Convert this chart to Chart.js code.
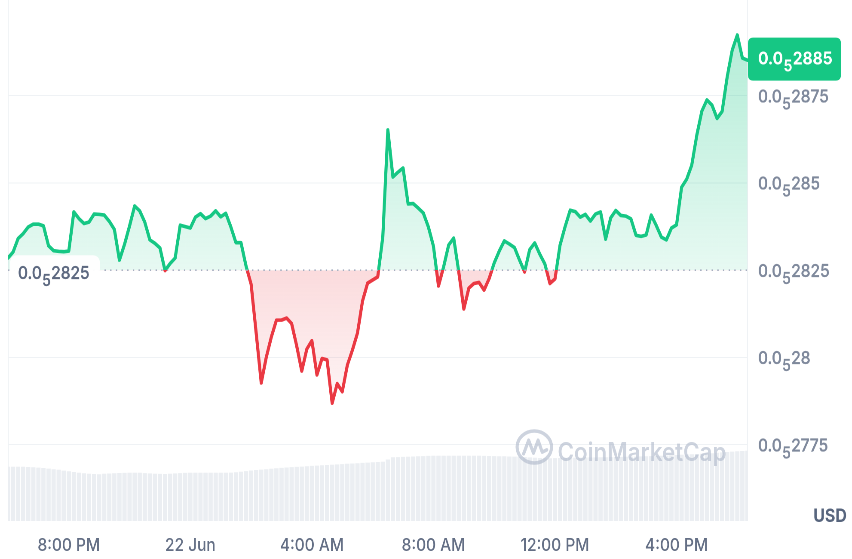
<!DOCTYPE html>
<html>
<head>
<meta charset="utf-8">
<script src="https://cdn.jsdelivr.net/npm/chart.js@4.4.1/dist/chart.umd.min.js"></script>
<style>
  html, body { margin: 0; padding: 0; background: #ffffff; overflow: hidden; width: 852px; height: 559px; }
  #wrap { position: absolute; left: 0; top: 0; width: 991px; height: 559px; transform: scaleX(0.8597); transform-origin: 0 0; }
</style>
</head>
<body>
<div id="wrap"><canvas id="c" width="991" height="559"></canvas></div>
<script>
// ---- data (price in units of 0.0₅xxxx, i.e. 1e-9 USD) ----
const startHour = -6;          // 21 Jun 18:00 (hours relative to 22 Jun 00:00)
const stepHours = 1 / 6;       // 10-minute samples
const baseline = 2825;         // opening price 0.0₅2825
const prices = [
  2828.5, 2830.2, 2834.1, 2835.5, 2837.4, 2838.2, 2838.2, 2837.7, 2832.0, 2830.6,
  2830.4, 2830.3, 2830.5, 2841.7, 2839.8, 2838.4, 2838.8, 2841.1, 2841.0, 2840.8,
  2839.0, 2836.7, 2827.9, 2832.4, 2837.7, 2843.4, 2842.0, 2838.8, 2833.7, 2832.7,
  2831.4, 2824.9, 2826.9, 2828.5, 2837.9, 2837.5, 2837.1, 2840.2, 2841.2, 2839.8,
  2840.5, 2842.0, 2840.3, 2841.3, 2837.4, 2832.9, 2832.9, 2826.2, 2821.0, 2807.0,
  2792.7, 2800.1, 2805.9, 2810.7, 2810.7, 2811.3, 2809.7, 2803.3, 2796.1, 2802.4,
  2804.8, 2795.0, 2799.7, 2799.3, 2786.9, 2792.5, 2790.2, 2797.8, 2802.1, 2807.0,
  2816.2, 2821.3, 2822.2, 2823.1, 2834.5, 2865.2, 2851.7, 2853.1, 2854.3, 2844.0,
  2844.1, 2842.8, 2841.4, 2837.4, 2831.9, 2820.5, 2825.9, 2832.2, 2834.2, 2824.5,
  2813.9, 2819.9, 2821.2, 2821.5, 2819.3, 2822.6, 2827.1, 2830.5, 2833.4, 2832.5,
  2831.5, 2827.9, 2824.5, 2830.9, 2832.8, 2829.6, 2826.8, 2821.2, 2822.5, 2832.2,
  2837.5, 2842.2, 2841.8, 2840.2, 2841.0, 2839.1, 2841.1, 2841.7, 2833.9, 2840.0,
  2842.1, 2840.7, 2840.5, 2839.7, 2835.0, 2834.7, 2835.1, 2840.8, 2837.8, 2834.5,
  2833.7, 2837.1, 2838.0, 2848.8, 2851.1, 2855.1, 2863.7, 2870.6, 2873.8, 2872.3,
  2868.5, 2870.5, 2880.4, 2888.1, 2892.4, 2885.8, 2885.2
];
const volumes = [
  5.43, 5.43, 5.42, 5.42, 5.40, 5.38, 5.34, 5.30, 5.24, 5.18,
  5.12, 5.04, 4.98, 4.90, 4.83, 4.78, 4.73, 4.70, 4.67, 4.72,
  4.75, 4.78, 4.80, 4.81, 4.82, 4.83, 4.82, 4.79, 4.76, 4.73,
  4.71, 4.70, 4.72, 4.76, 4.79, 4.81, 4.83, 4.83, 4.83, 4.83,
  4.83, 4.83, 4.83, 4.83, 4.84, 4.88, 4.93, 4.99, 5.05, 5.10,
  5.14, 5.18, 5.22, 5.27, 5.31, 5.35, 5.39, 5.41, 5.44, 5.48,
  5.51, 5.54, 5.57, 5.60, 5.63, 5.66, 5.69, 5.72, 5.75, 5.78,
  5.81, 5.84, 5.87, 5.90, 5.93, 6.15, 6.37, 6.39, 6.41, 6.43,
  6.45, 6.47, 6.49, 6.51, 6.52, 6.53, 6.53, 6.53, 6.53, 6.53,
  6.53, 6.53, 6.53, 6.52, 6.51, 6.50, 6.49, 6.48, 6.47, 6.45,
  6.44, 6.43, 6.40, 6.36, 6.33, 6.30, 6.27, 6.28, 6.29, 6.30,
  6.31, 6.32, 6.33, 6.34, 6.35, 6.36, 6.36, 6.37, 6.38, 6.39,
  6.40, 6.41, 6.42, 6.43, 6.44, 6.46, 6.47, 6.49, 6.50, 6.52,
  6.55, 6.57, 6.60, 6.62, 6.65, 6.68, 6.70, 6.73, 6.75, 6.78,
  6.82, 6.86, 6.90, 6.94, 6.97, 7.00, 7.03
];
const xTickHours = [-4, 0, 4, 8, 12, 16];
const xTickLabels = ['8:00 PM', '22 Jun', '4:00 AM', '8:00 AM', '12:00 PM', '4:00 PM'];
const yTickValues = [2775, 2800, 2825, 2850, 2875];
const zeroCount = 5;
const currency = 'USD';

// ---- styling ----
const GREEN = '#16c784', RED = '#ea3943';
const GRID = '#eff2f5';
const FONT = 'Inter, "Noto Sans", sans-serif';

const times = prices.map((_, i) => startHour + i * stepHours);
const pricePoints = prices.map((v, i) => ({ x: times[i], y: v }));
const volPoints = volumes.map((v, i) => ({ x: times[i], y: v }));

const mantissa = v => String(Math.round(v)).replace(/0+$/, '');

function drawSubLabel(ctx, x, yMid, value, size, subSize, color, weight, thicken) {
  ctx.save();
  ctx.fillStyle = color;
  ctx.strokeStyle = color;
  ctx.lineWidth = thicken || 0;
  ctx.lineJoin = 'round';
  ctx.textAlign = 'left';
  ctx.textBaseline = 'alphabetic';
  const put = (t, px, py) => { ctx.fillText(t, px, py); if (thicken) ctx.strokeText(t, px, py); };
  const base = yMid + 0.364 * size;
  ctx.font = `${weight} ${size}px ${FONT}`;
  put('0.0', x, base);
  let w = ctx.measureText('0.0').width + 0.5;
  ctx.font = `${weight} ${subSize}px ${FONT}`;
  put(String(zeroCount), x + w, base + 7);
  w += ctx.measureText(String(zeroCount)).width + 0.5;
  ctx.font = `${weight} ${size}px ${FONT}`;
  put(mantissa(value), x + w, base);
  ctx.restore();
}

function roundRect(ctx, x, y, w, h, r) {
  ctx.beginPath();
  ctx.moveTo(x + r, y);
  ctx.lineTo(x + w - r, y);
  ctx.quadraticCurveTo(x + w, y, x + w, y + r);
  ctx.lineTo(x + w, y + h - r);
  ctx.quadraticCurveTo(x + w, y + h, x + w - r, y + h);
  ctx.lineTo(x + r, y + h);
  ctx.quadraticCurveTo(x, y + h, x, y + h - r);
  ctx.lineTo(x, y + r);
  ctx.quadraticCurveTo(x, y, x + r, y);
  ctx.closePath();
}

function splitGradient(chart) {
  const { ctx, chartArea: a, scales } = chart;
  const yb = scales.y.getPixelForValue(baseline);
  const f = Math.min(Math.max((yb - a.top) / (a.bottom - a.top), 0), 1);
  const g = ctx.createLinearGradient(0, a.top, 0, a.bottom);
  g.addColorStop(0, GREEN); g.addColorStop(f, GREEN);
  g.addColorStop(f, RED); g.addColorStop(1, RED);
  return g;
}

const overlay = {
  id: 'overlay',
  beforeDatasetsDraw(chart) {
    const { ctx, chartArea: a } = chart;
    ctx.save();
    ctx.strokeStyle = GRID;
    ctx.lineWidth = 1;
    ctx.beginPath();
    ctx.moveTo(a.left + 0.5, 0); ctx.lineTo(a.left + 0.5, a.bottom);
    ctx.moveTo(a.right - 0.5, 0); ctx.lineTo(a.right - 0.5, a.bottom);
    ctx.stroke();
    ctx.restore();
  },
  afterDatasetsDraw(chart) {
    const { ctx, chartArea: a, scales } = chart;
    const y = scales.y;
    const yb = y.getPixelForValue(baseline);

    // dotted baseline
    ctx.save();
    ctx.strokeStyle = '#a6aec0';
    ctx.lineWidth = 1.6;
    ctx.setLineDash([1.6, 5]);
    ctx.beginPath();
    ctx.moveTo(a.left, yb); ctx.lineTo(a.right, yb);
    ctx.stroke();
    ctx.restore();

    // watermark
    ctx.save();
    const wm = 'rgba(172,181,200,0.6)';
    const cx = 621.5, cy = 447, rx = 20, ry = 16;
    ctx.strokeStyle = wm; ctx.lineWidth = 3.6; ctx.lineJoin = 'round'; ctx.lineCap = 'round';
    ctx.beginPath(); ctx.ellipse(cx, cy, rx, ry, 0, 0, Math.PI * 2); ctx.stroke();
    ctx.beginPath();
    ctx.moveTo(cx - 0.62 * rx, cy + 0.42 * ry);
    ctx.lineTo(cx - 0.33 * rx, cy - 0.42 * ry);
    ctx.lineTo(cx - 0.05 * rx, cy + 0.38 * ry);
    ctx.lineTo(cx + 0.22 * rx, cy - 0.42 * ry);
    ctx.lineTo(cx + 0.46 * rx, cy + 0.32 * ry);
    ctx.lineTo(cx + 0.72 * rx, cy + 0.18 * ry);
    ctx.stroke();
    ctx.fillStyle = wm;
    ctx.font = `600 26px ${FONT}`;
    ctx.textBaseline = 'alphabetic';
    ctx.fillText('CoinMarketCap', 648.5, 461);
    ctx.restore();

    // left baseline label box
    ctx.save();
    ctx.fillStyle = 'rgba(255,255,255,0.96)';
    roundRect(ctx, 11.6, yb - 15, 104.7, 33, 9);
    ctx.fill();
    ctx.restore();
    drawSubLabel(ctx, 20.9, yb + 2, baseline, 18, 16, '#5d6980', 500, 0.35);

    // right axis labels
    const lx = a.right + 11.7;
    yTickValues.forEach(v => {
      drawSubLabel(ctx, lx, y.getPixelForValue(v), v, 18, 16, '#7f899c', 500, 0.35);
    });

    // current price tag
    const last = prices[prices.length - 1];
    const yl = y.getPixelForValue(last);
    ctx.save();
    ctx.fillStyle = GREEN;
    roundRect(ctx, a.right, yl - 22.5, 108.2, 43, 6);
    ctx.fill();
    ctx.restore();
    drawSubLabel(ctx, lx, yl - 2, last, 18, 16, '#ffffff', 700, 0);

    // currency
    ctx.save();
    ctx.fillStyle = '#58667e';
    ctx.font = `700 18.5px ${FONT}`;
    ctx.textAlign = 'center';
    ctx.textBaseline = 'alphabetic';
    ctx.fillText(currency, 965.5, 522);
    ctx.restore();
  }
};

const chart = new Chart(document.getElementById('c'), {
  type: 'line',
  data: {
    datasets: [
      {
        type: 'line',
        label: 'Price',
        data: pricePoints,
        yAxisID: 'y',
        borderWidth: 3.6,
        borderJoinStyle: 'round',
        borderCapStyle: 'round',
        pointRadius: 0,
        tension: 0,
        borderColor: (c) => c.chart.chartArea ? splitGradient(c.chart) : GREEN,
        fill: false,
        order: 1
      },
      {
        type: 'bar',
        label: 'Volume',
        data: volPoints,
        yAxisID: 'yv',
        backgroundColor: '#ebeef2',
        barPercentage: 1,
        categoryPercentage: 0.84,
        order: 2
      }
    ]
  },
  options: {
    responsive: false,
    animation: false,
    devicePixelRatio: 2,
    layout: { padding: { left: 9.31, top: 5, right: 0, bottom: 0 } },
    plugins: { legend: { display: false }, tooltip: { enabled: false } },
    scales: {
      x: {
        type: 'linear',
        min: -6,
        max: 18.35,
        offset: false,
        grid: { display: false, drawTicks: false },
        border: { display: false },
        afterBuildTicks: (s) => { s.ticks = xTickHours.map(v => ({ value: v })); },
        afterFit: (s) => { s.height = 38; },
        ticks: {
          autoSkip: false,
          maxRotation: 0,
          padding: 14,
          color: '#646f85',
          font: { family: FONT, size: 18, weight: 500 },
          callback: (v) => xTickLabels[xTickHours.indexOf(v)]
        }
      },
      y: {
        position: 'right',
        min: 2753.14,
        max: 2901.0,
        afterBuildTicks: (s) => { s.ticks = yTickValues.map(v => ({ value: v })); },
        afterFit: (s) => { s.width = 121; },
        grid: {
          drawTicks: false,
          lineWidth: 1,
          color: (c) => (c.tick && c.tick.value === baseline) ? 'rgba(0,0,0,0)' : GRID
        },
        border: { display: false },
        ticks: { display: false }
      },
      yv: { display: false, min: 0, max: 51.6 }
    }
  },
  plugins: [overlay]
});

// fill gradients (need the laid-out chart area)
(function () {
  const { ctx, scales } = chart;
  const yb = scales.y.getPixelForValue(baseline);
  const yTop = scales.y.getPixelForValue(Math.max(...prices));
  const yBot = scales.y.getPixelForValue(Math.min(...prices));
  const above = ctx.createLinearGradient(0, yTop, 0, yb);
  above.addColorStop(0, 'rgba(22,199,132,0.32)');
  above.addColorStop(1, 'rgba(22,199,132,0.10)');
  const below = ctx.createLinearGradient(0, yb, 0, yBot);
  below.addColorStop(0, 'rgba(234,57,67,0.18)');
  below.addColorStop(1, 'rgba(234,57,67,0.05)');
  chart.data.datasets[0].fill = { target: { value: baseline }, above, below };
  chart.update('none');
})();
</script>
</body>
</html>
